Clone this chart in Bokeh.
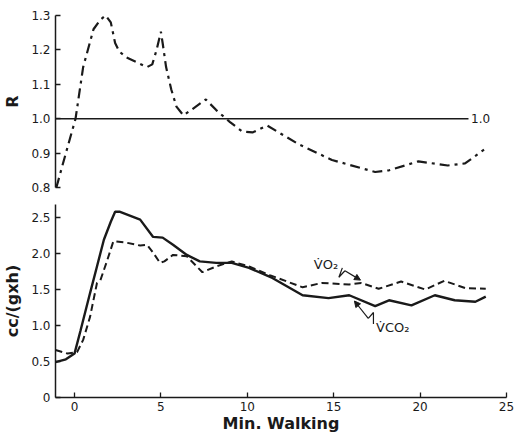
from bokeh.plotting import figure
from bokeh.layouts import column
from bokeh.models import FixedTicker, Arrow, NormalHead, Range1d, Label
from bokeh.embed import file_html
from bokeh.resources import INLINE

# ---- data ----
r_min = [-1.05, -0.5, 0.06, 0.5, 1.1, 1.5, 1.8, 2.1, 2.35, 2.6, 3.0, 4.2, 4.5, 4.75, 5.0, 5.1,
         5.3, 5.6, 5.9, 6.3, 6.8, 7.6, 8.2, 9.0, 9.7, 10.3, 11.15, 13.0, 14.9, 17.4, 18.2,
         19.9, 21.6, 22.6, 23.7]
r_val = [0.80, 0.90, 1.00, 1.15, 1.26, 1.288, 1.30, 1.28, 1.22, 1.195, 1.178, 1.15, 1.158, 1.20,
         1.253, 1.22, 1.15, 1.085, 1.035, 1.01, 1.027, 1.056, 1.025, 0.99, 0.963, 0.96, 0.98,
         0.925, 0.88, 0.845, 0.85, 0.876, 0.864, 0.87, 0.91]
r_ref = 1.0
r_ref_end = 22.8
r_ref_label = "1.0"

vco2_min = [-1.1, -0.5, 0.0, 0.35, 0.9, 1.3, 1.7, 2.1, 2.35, 2.6, 3.8, 4.55, 5.1, 5.7, 6.5, 7.25,
            8.2, 9.1, 10.1, 11.45, 13.2, 14.7, 15.9, 17.4, 18.2, 19.5, 20.85, 22.0, 23.2, 23.8]
vco2_val = [0.49, 0.53, 0.61, 0.93, 1.45, 1.82, 2.19, 2.44, 2.58, 2.58, 2.47, 2.23, 2.22, 2.12,
            1.98, 1.89, 1.87, 1.87, 1.80, 1.66, 1.42, 1.38, 1.42, 1.27, 1.35, 1.28, 1.42, 1.35,
            1.33, 1.40]

vo2_min = [-1.1, -0.4, 0.15, 0.5, 0.9, 1.3, 1.5, 1.9, 2.25, 3.0, 3.8, 4.2, 4.55, 4.95, 5.2, 5.7,
           6.5, 7.4, 8.2, 9.1, 10.1, 11.3, 13.2, 14.3, 15.9, 16.6, 17.6, 18.9, 20.3, 21.4, 22.6,
           23.8]
vo2_val = [0.66, 0.61, 0.63, 0.80, 1.12, 1.59, 1.63, 1.91, 2.17, 2.15, 2.11, 2.12, 2.01, 1.87,
           1.89, 1.98, 1.96, 1.74, 1.82, 1.89, 1.82, 1.70, 1.53, 1.59, 1.57, 1.59, 1.51, 1.61,
           1.50, 1.62, 1.52, 1.51]

r_ticks = [0.8, 0.9, 1.0, 1.1, 1.2, 1.3]
c_ticks = [0, 0.5, 1.0, 1.5, 2.0, 2.5]
c_tick_labels = ["0", "0.5", "1.0", "1.5", "2.0", "2.5"]
x_ticks = [0, 5, 10, 15, 20, 25]

vo2_label = "V\u0307O\u2082"
vco2_label = "V\u0307CO\u2082"
vo2_label_pos = (13.85, 1.84)
vco2_label_pos = (17.45, 0.97)
vo2_squiggle_x = [15.5, 15.3, 15.65]
vo2_squiggle_y = [1.80, 1.67, 1.76]
vo2_arrow_tip = (16.55, 1.63)
vco2_squiggle_x = [17.3, 17.3, 17.0]
vco2_squiggle_y = [1.02, 1.18, 1.10]
vco2_arrow_tip = (16.2, 1.34)

INK = "#1a1a1a"
FONT = "DejaVu Sans"

x_range = Range1d(-1.1, 25)

# ---- top panel ----
p1 = figure(width=514, height=198, x_range=x_range, y_range=Range1d(0.8, 1.3),
            output_backend="svg", toolbar_location=None,
            min_border_left=54, min_border_right=8, min_border_top=15, min_border_bottom=11)
p1.outline_line_color = None
p1.grid.visible = False
p1.xaxis.visible = False
p1.yaxis.ticker = FixedTicker(ticks=r_ticks)
p1.yaxis.major_label_overrides = {t: f"{t:.1f}" for t in r_ticks}
p1.yaxis.axis_label = "R"

p1.segment(x0=[x_range.start], y0=[r_ref], x1=[r_ref_end], y1=[r_ref],
           line_color=INK, line_width=1.5)
p1.add_layout(Label(x=r_ref_end + 0.15, y=r_ref, text=r_ref_label, text_baseline="middle",
                    text_font=FONT, text_font_size="12px", text_color=INK))
p1.line(r_min, r_val, line_color=INK, line_width=2.2, line_dash="10 5 3 5")

# ---- bottom panel ----
p2 = figure(width=514, height=237, x_range=x_range, y_range=Range1d(0, 2.68),
            output_backend="svg", toolbar_location=None,
            min_border_left=54, min_border_right=8, min_border_top=6, min_border_bottom=38)
p2.outline_line_color = None
p2.grid.visible = False
p2.yaxis.ticker = FixedTicker(ticks=c_ticks)
p2.yaxis.major_label_overrides = dict(zip(c_ticks, c_tick_labels))
p2.xaxis.ticker = FixedTicker(ticks=x_ticks)
p2.xaxis.major_label_overrides = {t: str(t) for t in x_ticks}
p2.yaxis.axis_label = "cc/(gxh)"
p2.xaxis.axis_label = "Min. Walking"

p2.line(vco2_min, vco2_val, line_color=INK, line_width=2.4)
p2.line(vo2_min, vo2_val, line_color=INK, line_width=2.0, line_dash="7 4")

for lab, pos in ((vo2_label, vo2_label_pos), (vco2_label, vco2_label_pos)):
    p2.add_layout(Label(x=pos[0], y=pos[1], text=lab, text_baseline="middle",
                        text_font=FONT, text_font_size="13px", text_color=INK))

p2.line(vo2_squiggle_x, vo2_squiggle_y, line_color=INK, line_width=1.2)
p2.add_layout(Arrow(end=NormalHead(size=6, fill_color=INK, line_color=INK),
                    x_start=vo2_squiggle_x[-1], y_start=vo2_squiggle_y[-1],
                    x_end=vo2_arrow_tip[0], y_end=vo2_arrow_tip[1],
                    line_color=INK, line_width=1.2))
p2.line(vco2_squiggle_x, vco2_squiggle_y, line_color=INK, line_width=1.2)
p2.add_layout(Arrow(end=NormalHead(size=6, fill_color=INK, line_color=INK),
                    x_start=vco2_squiggle_x[-1], y_start=vco2_squiggle_y[-1],
                    x_end=vco2_arrow_tip[0], y_end=vco2_arrow_tip[1],
                    line_color=INK, line_width=1.2))

for p in (p1, p2):
    for ax in p.axis:
        ax.axis_line_color = INK
        ax.axis_line_width = 1.5
        ax.major_tick_line_color = INK
        ax.major_tick_line_width = 1.3
        ax.major_tick_in = 5
        ax.major_tick_out = 0
        ax.minor_tick_line_color = None
        ax.major_label_text_font = FONT
        ax.major_label_text_font_size = "12px"
        ax.major_label_text_color = INK
        ax.major_label_standoff = 5
        ax.axis_label_text_font = FONT
        ax.axis_label_text_font_style = "bold"
        ax.axis_label_text_font_size = "16px"
        ax.axis_label_text_color = INK
        ax.axis_label_standoff = 6
p2.xaxis.axis_label_standoff = 0
p2.xaxis.major_label_standoff = 4

layout = column(p1, p2, spacing=0)
open("out.html", "w").write(file_html(layout, INLINE))
